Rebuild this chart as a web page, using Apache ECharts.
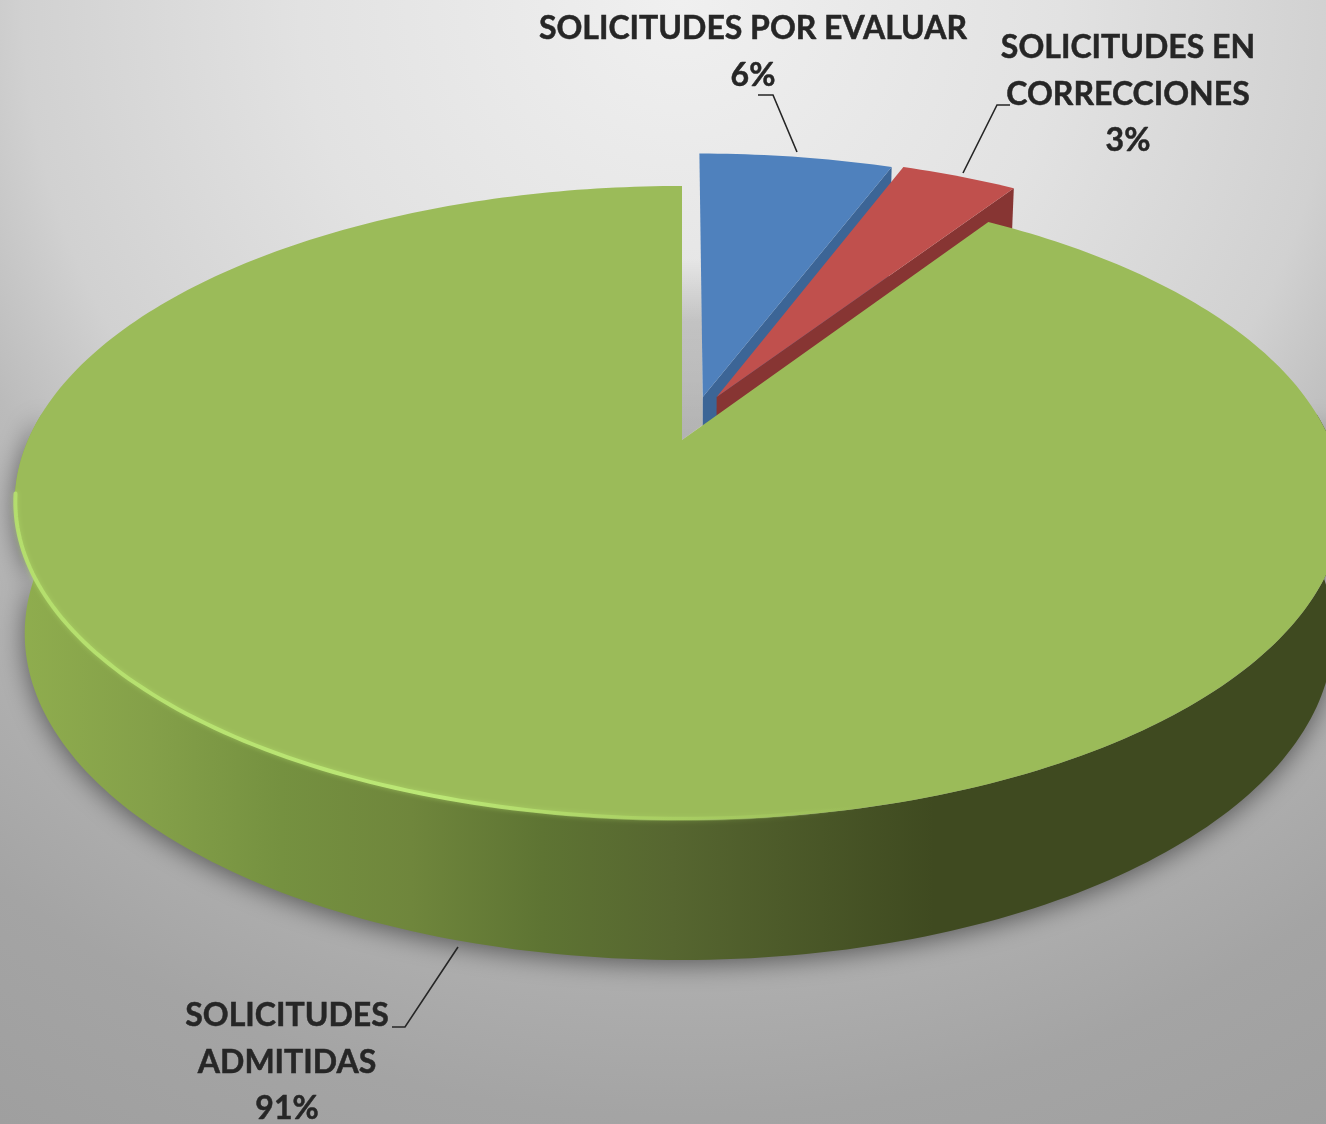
<!DOCTYPE html>
<html>
<head>
<meta charset="utf-8">
<style>html,body{margin:0;padding:0;background:#aaa;overflow:hidden}#c{width:1326px;height:1124px}#c canvas{filter:blur(0.7px)}</style>
<script src="https://cdn.jsdelivr.net/npm/echarts@6/dist/echarts.min.js"></script>
</head>
<body>
<div id="c"></div>
<script>
// ---- data ----
var categoryLines = [["SOLICITUDES POR EVALUAR"], ["SOLICITUDES EN", "CORRECCIONES"], ["SOLICITUDES", "ADMITIDAS"]];
var values = [5.8, 3.49, 90.71];

// ---- style ----
var faceColors = ['#4F81BD', '#C0504D', '#9BBB59'];
var sideColors = ['#3C6596', '#873533', '#3F4A20'];
var FONT = 'bold 32px Lato, "Open Sans", sans-serif';
var TEXT = '#262626';

// ---- layout (projection of the tilted disc) ----
var CX = 682, CY = 440, AL = 654, AR = 648, B = 304.5, K = 0.1987;
var FALL_X = 0.985, FALL_Y = 1.03, FALL_D = 128.6;
var explodeX = [0.033, 0.055, 0], explodeZ = [-0.145, -0.145, 0], radiusScale = [1.012, 1.012, 1];
var labelPos = [[753, 29], [1128, 48], [287, 1016]];
var LINE_H = 46.5;
var leaders = [
  [[797, 152], [773, 95], [758, 95]],
  [[963, 173], [997, 105], [1010, 105]],
  [[458, 947], [405, 1027], [392, 1027]]
];

function proj(x, z) {
  var w = 1 - K * z;
  return [CX + (x > 0 ? AR : AL) * x / w, CY + B * z / w];
}
function fall(p) {
  return [CX + (p[0] - CX) * FALL_X, CY + (p[1] - CY) * FALL_Y + FALL_D];
}
function rim(deg, i) {
  var t = deg * Math.PI / 180;
  return proj(radiusScale[i] * Math.sin(t) + explodeX[i], -radiusScale[i] * Math.cos(t) + explodeZ[i]);
}
function arc(a, b, i) {
  var pts = [], n = Math.max(2, Math.ceil(Math.abs(b - a)));
  for (var s = 0; s <= n; s++) pts.push(rim(a + (b - a) * s / n, i));
  return pts;
}
function grad(x, y, x2, y2, stops) {
  return {type: 'linear', x: x, y: y, x2: x2, y2: y2, global: true,
    colorStops: stops.map(function (s) { return {offset: s[0], color: s[1]}; })};
}
var total = values.reduce(function (a, b) { return a + b; }, 0);
var starts = [], acc = 0;
values.forEach(function (v) { starts.push(acc); acc += v; });

function renderSlice(params, api) {
  var i = params.dataIndex;
  var a0 = api.value(0) / total * 360, a1 = (api.value(0) + api.value(1)) / total * 360;
  var apex = proj(explodeX[i], explodeZ[i]);
  var kids = [];
  if (i === 0) {
    // shade in the gap left by the exploded slice
    var e0 = rim(0, 0);
    kids.push({type: 'polygon', shape: {points: [[CX, e0[1] + 105], [e0[0] + 2, e0[1] + 105], [apex[0], apex[1] + 28], [CX, CY]]},
      style: {fill: grad(0, e0[1] + 105, 0, CY, [[0, 'rgba(0,0,0,0)'], [0.35, 'rgba(0,0,0,0.15)'], [1, 'rgba(0,0,0,0.2)']])}, silent: true});
  }
  if (i < 2) {
    // side of the exploded slice, seen along its trailing edge
    var c = rim(a1, i);
    kids.push({type: 'polygon', shape: {points: [apex, c, fall(c), fall(apex)]}, style: {fill: sideColors[i]}});
  } else {
    // outer wall of the large slice, with its soft ground shadow
    var top = arc(85, 275, i);
    var wall = top.concat(top.map(fall).reverse());
    kids.push({type: 'polygon', shape: {points: wall}, style: {
      fill: grad(20, 0, 1326, 0, [[0, '#8FAD4E'], [0.1, '#84A049'], [0.2, '#759140'], [0.3, '#6F863C'], [0.4, '#5E7433'], [0.5, '#566630'], [0.7, '#3F4A20'], [1, '#3F4A20']]),
      shadowBlur: 26, shadowColor: 'rgba(0,0,0,0.5)', shadowOffsetY: 4}});
  }
  var face = [apex].concat(arc(a0, a1, i));
  kids.push({type: 'polygon', shape: {points: face}, style: {fill: faceColors[i]}});
  if (i === 2) {
    var r = arc(150, 260, 2).map(function (p) { return [p[0] + 0.6, p[1] - 1.2]; });
    kids.push({type: 'polyline', shape: {points: r}, style: {fill: null, lineWidth: 4, lineCap: 'round',
      stroke: grad(15, 0, 860, 0, [[0, 'rgba(182,225,110,0.9)'], [0.5, 'rgba(188,232,118,1)'], [0.75, 'rgba(178,220,105,0.55)'], [1, 'rgba(178,220,105,0)']]),
      shadowBlur: 5, shadowColor: 'rgba(182,225,110,0.6)'}});
  }
  return {type: 'group', children: kids};
}

function renderLabel(params, api) {
  var i = params.dataIndex, kids = [];
  var lines = categoryLines[i].concat([Math.round(api.value(1) / total * 100) + '%']);
  lines.forEach(function (t, n) {
    kids.push({type: 'text', style: {text: t, x: labelPos[i][0], y: labelPos[i][1] + n * LINE_H,
      font: FONT, fill: TEXT, stroke: TEXT, lineWidth: 0.5, align: 'center', verticalAlign: 'middle'}});
  });
  kids.push({type: 'polyline', shape: {points: leaders[i]}, style: {fill: null, stroke: '#262626', lineWidth: 1.6}});
  return {type: 'group', children: kids};
}

var rows = values.map(function (v, i) { return [starts[i], v]; });
var chart = echarts.init(document.getElementById('c'), null, {renderer: 'canvas', width: 1326, height: 1124});
chart.setOption({
  animation: false,
  backgroundColor: {type: 'radial', x: 0.513, y: 0, r: 1.169, colorStops: [
    {offset: 0, color: '#F0F0F0'}, {offset: 0.29, color: '#E2E2E2'}, {offset: 0.5, color: '#D1D1D1'},
    {offset: 0.6, color: '#BBBBBB'}, {offset: 0.85, color: '#A4A4A4'}, {offset: 1, color: '#9F9F9F'}]},
  series: [
    {type: 'custom', coordinateSystem: 'none', renderItem: renderSlice, data: rows, silent: true, z: 2},
    {type: 'custom', coordinateSystem: 'none', renderItem: renderLabel, data: rows, silent: true, z: 3}
  ]
});
</script>
</body>
</html>
